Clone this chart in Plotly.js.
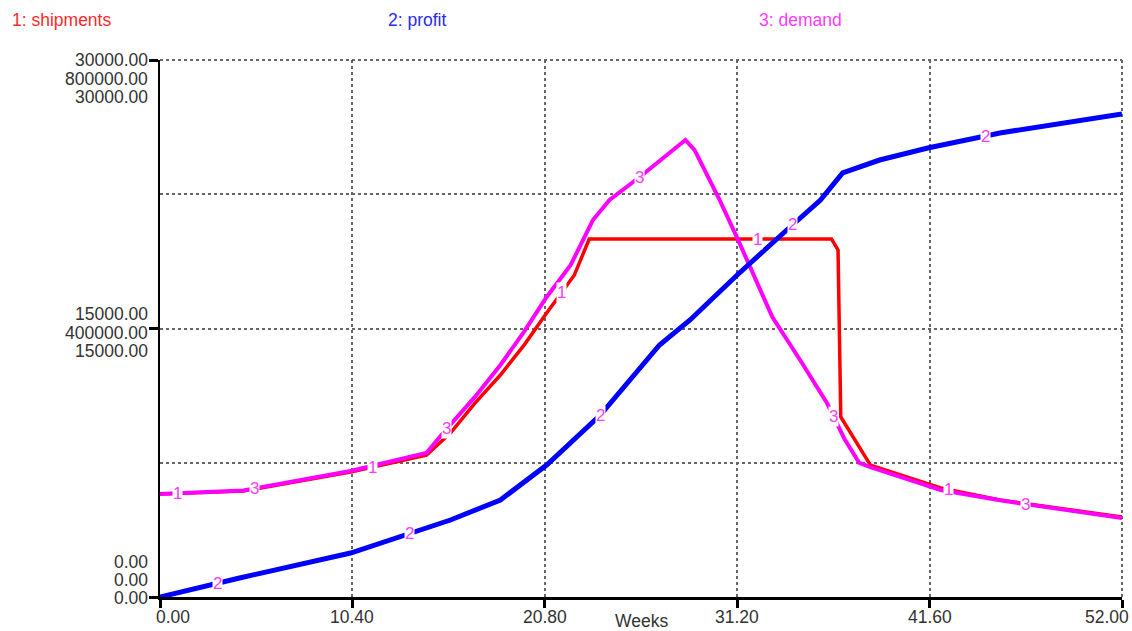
<!DOCTYPE html>
<html>
<head>
<meta charset="utf-8">
<script src="https://cdn.plot.ly/plotly-3.0.1.min.js"></script>
<style>
  html, body { margin: 0; padding: 0; background: #ffffff; }
  #chart { width: 1132px; height: 631px; }
</style>
</head>
<body>
<div id="chart"></div>
<script>
// ---- data ----
const shipWeeks = [0, 4.5, 10.3, 14.4, 15.7, 17.0, 18.4, 19.7, 20.9, 22.4, 23.2, 36.3, 36.65, 36.8, 38.4, 42.2, 45.4, 52];
const shipVals  = [5750, 5920, 6980, 7930, 9160, 10800, 12400, 14100, 15870, 17990, 20000, 20000, 19390, 10060, 7370, 6090, 5420, 4470];

const profWeeks = [0, 4.3, 10.3, 15.7, 18.4, 20.9, 23.8, 27.0, 28.65, 31.2, 33.7, 35.7, 36.9, 38.9, 41.5, 45.4, 52];
const profVals  = [0, 28300, 65500, 114700, 144500, 196700, 271100, 375400, 412700, 479700, 542300, 591400, 631700, 651000, 668900, 691300, 719600];

const demWeeks = [0, 4.5, 10.3, 14.4, 15.3, 17.0, 18.4, 19.7, 20.9, 22.2, 23.4, 24.3, 26.0, 28.4, 28.9, 30.2, 31.2, 33.1, 34.6, 36.05, 37.0, 37.8, 38.4, 42.2, 45.4, 52];
const demVals  = [5750, 5950, 7040, 8050, 9160, 11150, 12960, 14850, 16760, 18550, 21060, 22180, 23520, 25530, 24970, 22290, 20060, 15640, 13240, 10840, 8830, 7490, 7260, 5980, 5400, 4410];

const xTickVals = [0, 10.4, 20.8, 31.2, 41.6, 52];
const xTickText = ["0.00", "10.40", "20.80", "31.20", "41.60", "52.00"];

const seriesNames = ["1: shipments", "2: profit", "3: demand"];
const seriesColors = ["#ff0000", "#0000ff", "#ff00ff"];
const legendColors = ["#ff2a2a", "#2a2aff", "#ff3cff"];

// y labels stacked at each y tick (shipments / profit / demand)
const yTickTopLabels = ["30000.00", "800000.00", "30000.00"];
const yTickMidLabels = ["15000.00", "400000.00", "15000.00"];
const yTickBotLabels = ["0.00", "0.00", "0.00"];

// positions (weeks) of the numbered markers on each line
const shipMarkWeeks = [0.95, 11.5, 21.7, 32.3, 42.6];
const profMarkWeeks = [3.1, 13.5, 23.8, 34.2, 44.6];
const demMarkWeeks  = [5.1, 15.5, 25.9, 36.4, 46.8];

function interp(xs, ys, x) {
  for (let i = 0; i < xs.length - 1; i++) {
    if (x >= xs[i] && x <= xs[i + 1]) {
      const t = (x - xs[i]) / (xs[i + 1] - xs[i]);
      return ys[i] + t * (ys[i + 1] - ys[i]);
    }
  }
  return ys[ys.length - 1];
}

const traces = [
  { x: shipWeeks, y: shipVals, type: "scatter", mode: "lines", name: seriesNames[0],
    line: { color: seriesColors[0], width: 3.5 }, yaxis: "y", hoverinfo: "skip" },
  { x: profWeeks, y: profVals, type: "scatter", mode: "lines", name: seriesNames[1],
    line: { color: seriesColors[1], width: 5 }, yaxis: "y2", hoverinfo: "skip" },
  { x: demWeeks, y: demVals, type: "scatter", mode: "lines", name: seriesNames[2],
    line: { color: seriesColors[2], width: 4 }, yaxis: "y", hoverinfo: "skip" }
];

const FONT = "Liberation Sans, Arial, sans-serif";
const markColor = "#ff3cff";
const annotations = [];
function addMarks(weeks, xs, ys, label, yref) {
  weeks.forEach(w => {
    annotations.push({
      x: w, y: interp(xs, ys, w), xref: "x", yref: yref, text: label,
      showarrow: false, bgcolor: "#ffffff", borderpad: 0,
      font: { family: FONT, size: 17, color: markColor }
    });
  });
}
addMarks(shipMarkWeeks, shipWeeks, shipVals, "1", "y");
addMarks(profMarkWeeks, profWeeks, profVals, "2", "y2");
addMarks(demMarkWeeks, demWeeks, demVals, "3", "y");

// stacked y tick labels
const labFont = { family: FONT, size: 17.5, color: "#333333" };
function addYLabels(labels, yval, shifts) {
  labels.forEach((t, i) => {
    annotations.push({
      x: 0, xref: "paper", xanchor: "right", xshift: -10,
      y: yval, yref: "y", yanchor: "middle", yshift: shifts[i],
      text: t, showarrow: false, font: labFont
    });
  });
}
addYLabels(yTickTopLabels, 30000, [0, -19, -37]);
addYLabels(yTickMidLabels, 15000, [15, -4, -22]);
addYLabels(yTickBotLabels, 0, [35, 17, -1]);

// x tick labels (ends pulled inward like the reference)
xTickVals.forEach((v, i) => {
  const last = xTickVals.length - 1;
  annotations.push({
    x: v, xref: "x",
    xanchor: i === 0 ? "left" : (i === last ? "right" : "center"),
    xshift: i === 0 ? -6 : (i === last ? 9 : 0),
    y: 0, yref: "paper", yanchor: "top", yshift: -8,
    text: xTickText[i], showarrow: false, font: labFont
  });
});

// legend header
const legendX = [10, 386, 757];
seriesNames.forEach((n, i) => {
  annotations.push({
    x: (legendX[i] - 160) / 962, xref: "paper", xanchor: "left",
    y: 1, yref: "paper", yanchor: "middle", yshift: 40,
    text: n, showarrow: false,
    font: { family: FONT, size: 17.5, color: legendColors[i] }
  });
});

// x axis title
annotations.push({
  x: 26, xref: "x", y: 0, yref: "paper", yanchor: "top", yshift: -12,
  text: "Weeks", showarrow: false, font: labFont
});

const gridStyle = { color: "#666666", width: 2, dash: "dot" };
const layout = {
  width: 1132, height: 631,
  margin: { l: 160, r: 10, t: 60, b: 34 },
  paper_bgcolor: "#ffffff", plot_bgcolor: "#ffffff",
  showlegend: false,
  xaxis: {
    range: [0, 52], tickvals: xTickVals, showticklabels: false,
    showgrid: true, gridcolor: "#666666", griddash: "dot", gridwidth: 2,
    showline: true, linecolor: "#000000", linewidth: 2.5,
    ticks: "outside", ticklen: 8, tickwidth: 3, tickcolor: "#000000",
    zeroline: false, fixedrange: true
  },
  yaxis: {
    range: [0, 30000], tickvals: [0, 15000, 30000], showticklabels: false,
    showgrid: true, gridcolor: "#666666", griddash: "dot", gridwidth: 2,
    minor: { dtick: 7500, tick0: 0, showgrid: true, gridcolor: "#666666", griddash: "dot", gridwidth: 2, ticks: "" },
    showline: true, linecolor: "#000000", linewidth: 2.5,
    ticks: "outside", ticklen: 9, tickwidth: 3, tickcolor: "#000000",
    zeroline: false, fixedrange: true
  },
  yaxis2: {
    range: [0, 800000], overlaying: "y", side: "left",
    showticklabels: false, showgrid: false, showline: false, zeroline: false, ticks: "", fixedrange: true
  },
  shapes: [
    { type: "line", xref: "paper", yref: "paper", x0: 0, x1: 1, y0: 1, y1: 1, line: gridStyle, layer: "below" },
    { type: "line", xref: "paper", yref: "paper", x0: 1, x1: 1, y0: 0, y1: 1, line: gridStyle, layer: "below" }
  ],
  annotations: annotations
};

Plotly.newPlot("chart", traces, layout, { staticPlot: true, displayModeBar: false });
</script>
</body>
</html>
